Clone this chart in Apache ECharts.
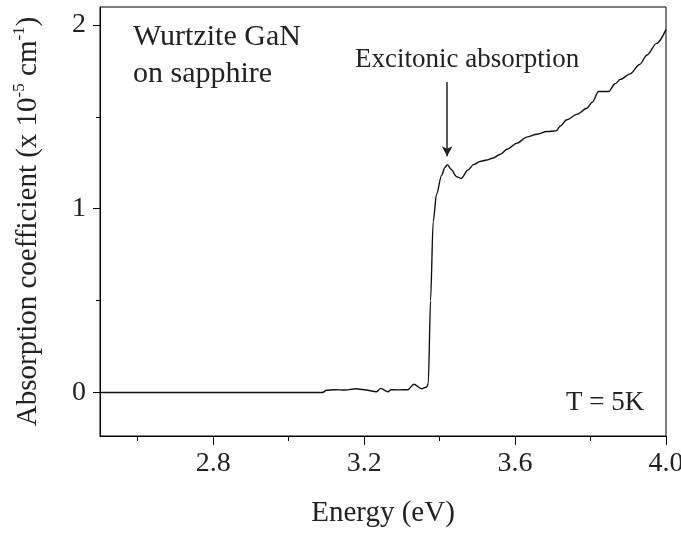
<!DOCTYPE html>
<html>
<head>
<meta charset="utf-8">
<script src="https://cdn.jsdelivr.net/npm/echarts@6/dist/echarts.min.js"></script>
<style>
  html, body { margin: 0; padding: 0; background: #fff; }
  #chart { width: 681px; height: 533px; }
</style>
</head>
<body>
<div id="chart"></div>
<script>
// energy (eV) and absorption coefficient (x 10^-5 cm^-1)
var energy = [2.50, 3.09, 3.10, 3.12, 3.15, 3.178, 3.20, 3.233, 3.244, 3.263, 3.271, 3.29, 3.316, 3.332, 3.352, 3.366,
  3.370, 3.376, 3.383, 3.392, 3.405, 3.414, 3.421, 3.430, 3.445, 3.457, 3.475, 3.490, 3.507, 3.525, 3.540, 3.560,
  3.580, 3.605, 3.631, 3.658, 3.684, 3.709, 3.720, 3.737, 3.765, 3.790, 3.805, 3.821, 3.848, 3.865, 3.879, 3.905,
  3.930, 3.950, 3.975, 4.000];
var absorption = [0, 0, 0.012, 0.015, 0.013, 0.02, 0.015, 0.004, 0.022, 0.004, 0.015, 0.014, 0.015, 0.045, 0.02, 0.03,
  0.05, 0.5, 0.93, 1.08, 1.18, 1.225, 1.24, 1.215, 1.175, 1.165, 1.21, 1.24, 1.257, 1.265, 1.275, 1.295,
  1.325, 1.357, 1.39, 1.405, 1.42, 1.424, 1.45, 1.484, 1.515, 1.547, 1.58, 1.638, 1.638, 1.68, 1.704, 1.734,
  1.785, 1.837, 1.9, 1.975];

var xMajor = [2.8, 3.2, 3.6, 4.0];
var xMinor = [2.6, 3.0, 3.4, 3.8];
var yMajor = [0, 1, 2];
var yMinor = [0.5, 1.5];

// arrow pointing at the exciton peak
var peakE = 3.42;
var arrowFrom = 1.69, arrowTo = 1.285;

var FONT = 'Liberation Serif';
var xMin = 2.5, xMax = 4.0, yMin = -0.237, yMax = 2.098;

var chart = echarts.init(document.getElementById('chart'));

var points = energy.map(function (e, i) { return [e, absorption[i]]; });

chart.setOption({
  animation: false,
  backgroundColor: '#fff',
  grid: {
    left: 100, right: 15, top: 7, bottom: 97,
    outerBoundsMode: 'none',
    show: true, borderColor: '#000', borderWidth: 1
  },
  xAxis: [
    {
      type: 'value', min: xMin, max: xMax,
      name: 'Energy (eV)', nameLocation: 'middle', nameGap: 63,
      nameTextStyle: { fontFamily: FONT, fontSize: 29, color: '#222' },
      axisLine: { show: true, onZero: false, lineStyle: { color: '#000', width: 1 } },
      axisTick: { show: true, inside: false, length: 9, customValues: xMajor, lineStyle: { color: '#000' } },
      axisLabel: {
        customValues: xMajor, margin: 14, fontFamily: FONT, fontSize: 28, color: '#222',
        formatter: function (v) { return v.toFixed(1); }
      },
      splitLine: { show: false }
    },
    {
      type: 'value', min: xMin, max: xMax, position: 'bottom',
      axisLine: { show: false, onZero: false },
      axisTick: { show: true, length: 5, customValues: xMinor, lineStyle: { color: '#000' } },
      axisLabel: { show: false },
      splitLine: { show: false }
    }
  ],
  yAxis: [
    {
      type: 'value', min: yMin, max: yMax,
      name: '{t|Absorption coefficient (x 10}{s|-5}{t| cm}{s|-1}{t|)}',
      nameLocation: 'middle', nameRotate: 90, nameGap: 55,
      nameTextStyle: {
        rich: {
          t: { fontFamily: FONT, fontSize: 29, color: '#222', lineHeight: 34 },
          s: { fontFamily: FONT, fontSize: 17, color: '#222', verticalAlign: 'top', lineHeight: 34 }
        }
      },
      axisLine: { show: true, onZero: false, lineStyle: { color: '#000', width: 1 } },
      axisTick: { show: true, length: 7, customValues: yMajor, lineStyle: { color: '#000' } },
      axisLabel: { customValues: yMajor, margin: 14, fontFamily: FONT, fontSize: 28, color: '#222' },
      splitLine: { show: false }
    },
    {
      type: 'value', min: yMin, max: yMax, position: 'left',
      axisLine: { show: false, onZero: false },
      axisTick: { show: true, length: 4, customValues: yMinor, lineStyle: { color: '#000' } },
      axisLabel: { show: false },
      splitLine: { show: false }
    }
  ],
  series: [
    {
      type: 'line',
      xAxisIndex: 0, yAxisIndex: 0,
      data: points,
      showSymbol: false,
      smooth: 0.3,
      smoothMonotone: 'x',
      lineStyle: { color: '#111', width: 1.4 },
      markLine: {
        silent: true,
        symbol: ['none', 'arrow'],
        symbolSize: [8, 10],
        label: { show: false },
        lineStyle: { color: '#222', width: 1.5, type: 'solid' },
        data: [[{ coord: [peakE, arrowFrom] }, { coord: [peakE, arrowTo] }]]
      }
    }
  ],
  graphic: [
    {
      type: 'text', left: 133, top: 19,
      style: { text: 'Wurtzite GaN\non sapphire', fontFamily: FONT, fontSize: 30, lineHeight: 37, fill: '#222' }
    },
    {
      type: 'text', left: 355, top: 46,
      style: { text: 'Excitonic absorption', fontFamily: FONT, fontSize: 27, fill: '#222' }
    },
    {
      type: 'text', left: 566, top: 389,
      style: { text: 'T = 5K', fontFamily: FONT, fontSize: 27, fill: '#222' }
    }
  ]
});
</script>
</body>
</html>
